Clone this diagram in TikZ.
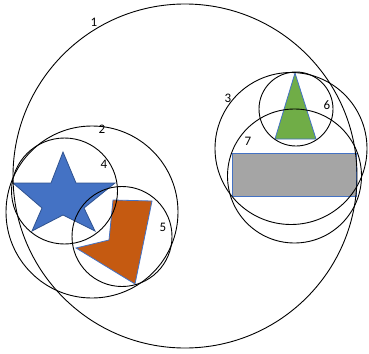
\documentclass[tikz,border=0pt]{standalone}
\usepackage{fontspec}
\setmainfont{Carlito}
\definecolor{starblue}{HTML}{4472C4}
\definecolor{starline}{HTML}{2F528F}
\definecolor{orng}{HTML}{C55A11}
\definecolor{grn}{HTML}{70AD47}
\definecolor{gry}{HTML}{A5A5A5}
\tikzset{
  ring/.style={draw=black, line width=0.9pt},
  lbl/.style={font=\fontsize{13}{15}\selectfont, inner sep=0pt},
  shapeline/.style={draw=starline, line width=0.8pt}
}
\begin{document}
\begin{tikzpicture}[x=1pt,y=-1pt]
\useasboundingbox (0,0) rectangle (369,353);
% shapes
\fill[starblue, shapeline] (63,152) -- (76,183) -- (115,183) -- (84,208) -- (95,231) -- (63,215) -- (32,231) -- (42,208) -- (13,183) -- (51,183) -- cycle;
\fill[orng, draw=starblue, line width=0.8pt] (113,200) -- (152,201) -- (135,284) -- (76,248) -- (109,240) -- cycle;
\fill[grn, draw=starblue, line width=0.8pt] (295,73) -- (316,139) -- (275,139) -- cycle;
\fill[gry, draw=starblue, line width=0.8pt] (232,153) rectangle (356,196);
% circles
\draw[ring] (185,176) circle[radius=172];
\draw[ring] (92,212) circle[radius=86];
\draw[ring] (64.5,191) circle[radius=53];
\draw[ring] (122,236.5) circle[radius=50];
\draw[ring] (291,148.5) circle[radius=76];
\draw[ring] (296,109) circle[radius=37];
\draw[ring] (294.5,176) circle[radius=67];
% labels
\node[lbl] (l1) at (94,22) {1};
\node[lbl] (l2) at (102,129) {2};
\node[lbl] (l3) at (228,98) {3};
\node[lbl] (l4) at (104,164) {4};
\node[lbl] (l5) at (163,227) {5};
\node[lbl] (l6) at (327,105) {6};
\node[lbl] (l7) at (248,141) {7};
\end{tikzpicture}
\end{document}
